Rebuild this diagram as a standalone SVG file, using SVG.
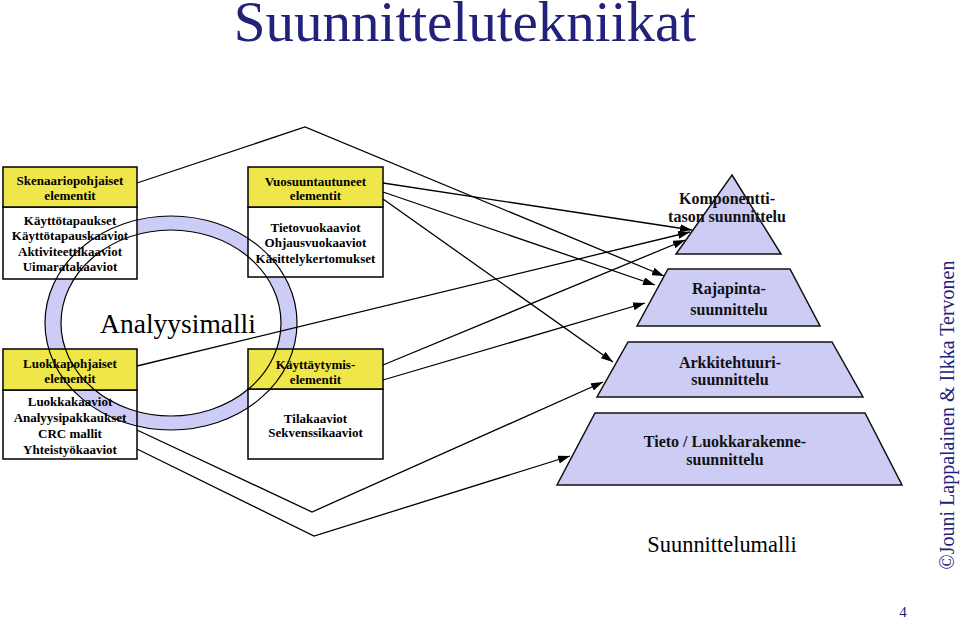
<svg xmlns="http://www.w3.org/2000/svg" width="960" height="620" viewBox="0 0 960 620" font-family="'Liberation Serif', 'Times New Roman', serif">
  <defs>
    <marker id="arr" markerUnits="userSpaceOnUse" markerWidth="12" markerHeight="8" refX="12" refY="4" orient="auto">
      <path d="M0,0 L12,4 L0,8 z" fill="#000"/>
    </marker>
    <style>
      .hdr { fill: #efe64a; stroke: #000; stroke-width: 1.5; }
      .body { fill: #fff; stroke: #000; stroke-width: 1.5; }
      .bodyclear { fill: none; stroke: #000; stroke-width: 1.5; }
      .bt { font-size: 13px; font-weight: bold; fill: #000; text-anchor: middle; }
      .pyr { fill: #ccccf5; stroke: #111; stroke-width: 1.5; }
      .pt { font-size: 16px; font-weight: bold; fill: #111; text-anchor: middle; }
      .con { fill: none; stroke: #000; stroke-width: 1.3; marker-end: url(#arr); }
      .navy { fill: #22227a; }
      .ser { fill: #000; text-anchor: middle; }
    </style>
  </defs>
  <rect width="960" height="620" fill="#fff"/>

  <text class="navy" x="465" y="41" font-size="57" text-anchor="middle" font-family="'Liberation Serif', 'Times New Roman', serif">Suunnittelutekniikat</text>

  <!-- ring fill (below the boxes) -->
  <g id="analyysimalli-ring-fill">
    <path d="M45,323 a126,107 0 1,0 252,0 a126,107 0 1,0 -252,0 z M61,323 a110,93 0 1,1 220,0 a110,93 0 1,1 -220,0 z" fill="#ccccf7" fill-rule="evenodd"/>
  </g>

  <g id="skenaario" font-family="'Liberation Serif', 'Times New Roman', serif">
    <rect class="body" x="3" y="207" width="134" height="72"/>
    <rect class="hdr" x="3" y="167" width="134" height="40"/>
    <text class="bt" x="70" y="185">Skenaariopohjaiset</text>
    <text class="bt" x="70" y="200">elementit</text>
    <text class="bt" x="70" y="225">Käyttötapaukset</text>
    <text class="bt" x="70" y="240">Käyttötapauskaaviot</text>
    <text class="bt" x="70" y="256">Aktiviteettikaaviot</text>
    <text class="bt" x="70" y="271">Uimaratakaaviot</text>
  </g>

  <g id="luokka" font-family="'Liberation Serif', 'Times New Roman', serif">
    <rect class="bodyclear" x="3" y="390" width="134" height="69"/>
    <rect class="hdr" x="3" y="349" width="134" height="41"/>
    <text class="bt" x="70" y="368">Luokkapohjaiset</text>
    <text class="bt" x="70" y="383">elementit</text>
    <text class="bt" x="70" y="406">Luokkakaaviot</text>
    <text class="bt" x="70" y="422">Analyysipakkaukset</text>
    <text class="bt" x="70" y="438">CRC mallit</text>
    <text class="bt" x="70" y="454">Yhteistyökaaviot</text>
  </g>

  <g id="vuo" font-family="'Liberation Serif', 'Times New Roman', serif">
    <rect class="body" x="248" y="207" width="135" height="70"/>
    <rect class="hdr" x="248" y="167" width="135" height="40"/>
    <text class="bt" x="315.5" y="186">Vuosuuntautuneet</text>
    <text class="bt" x="315.5" y="200">elementit</text>
    <text class="bt" x="315.5" y="232">Tietovuokaaviot</text>
    <text class="bt" x="315.5" y="247">Ohjausvuokaaviot</text>
    <text class="bt" x="315.5" y="263">Käsittelykertomukset</text>
  </g>

  <g id="kayttaytymis" font-family="'Liberation Serif', 'Times New Roman', serif">
    <rect class="body" x="248" y="389" width="135" height="70"/>
    <rect class="hdr" x="248" y="349" width="135" height="40"/>
    <text class="bt" x="315.5" y="369">Käyttäytymis-</text>
    <text class="bt" x="315.5" y="384">elementit</text>
    <text class="bt" x="315.5" y="423">Tilakaaviot</text>
    <text class="bt" x="315.5" y="437">Sekvenssikaaviot</text>
  </g>

  <!-- ring outline (above the boxes) and label -->
  <g id="analyysimalli" font-family="'Liberation Serif', 'Times New Roman', serif">
    <ellipse cx="171" cy="323" rx="126" ry="107" fill="none" stroke="#000" stroke-width="1.2"/>
    <ellipse cx="171" cy="323" rx="110" ry="93" fill="none" stroke="#000" stroke-width="1.2"/>
    <text class="ser" x="178" y="333" font-size="27.5">Analyysimalli</text>
  </g>

  <g id="komponentti" font-family="'Liberation Serif', 'Times New Roman', serif">
    <polygon class="pyr" points="732,175 781,254 676,254"/>
    <text class="pt" x="727" y="204">Komponentti-</text>
    <text class="pt" x="727" y="222">tason suunnittelu</text>
  </g>
  <g id="rajapinta" font-family="'Liberation Serif', 'Times New Roman', serif">
    <polygon class="pyr" points="668,269 790,269 820,326 637,326"/>
    <text class="pt" x="729" y="294">Rajapinta-</text>
    <text class="pt" x="729" y="315">suunnittelu</text>
  </g>
  <g id="arkkitehtuuri" font-family="'Liberation Serif', 'Times New Roman', serif">
    <polygon class="pyr" points="628,342 832,342 863,397 597,397"/>
    <text class="pt" x="730" y="368">Arkkitehtuuri-</text>
    <text class="pt" x="730" y="385">suunnittelu</text>
  </g>
  <g id="tieto" font-family="'Liberation Serif', 'Times New Roman', serif">
    <polygon class="pyr" points="595,413 865,413 902,485 557,485"/>
    <text class="pt" x="725" y="447">Tieto / Luokkarakenne-</text>
    <text class="pt" x="725" y="465">suunnittelu</text>
  </g>

  <g id="connectors">
    <polyline class="con" points="137,183 305,127 664,276"/>
    <line class="con" x1="383" y1="183" x2="692" y2="230"/>
    <line class="con" x1="383" y1="192" x2="655" y2="285"/>
    <line class="con" x1="383" y1="199" x2="613" y2="362"/>
    <line class="con" x1="137" y1="366" x2="690" y2="232"/>
    <line class="con" x1="383" y1="365" x2="685" y2="240"/>
    <line class="con" x1="383" y1="380" x2="645" y2="303"/>
    <polyline class="con" points="137,430 312,512 603,382"/>
    <polyline class="con" points="137,449 314,536 570,456"/>
  </g>

  <text class="ser" x="722" y="552" font-size="22.4" font-family="'Liberation Serif', 'Times New Roman', serif">Suunnittelumalli</text>

  <text class="navy" font-size="20" text-anchor="middle" font-family="'Liberation Serif', 'Times New Roman', serif" transform="translate(954,415) rotate(-90)">©Jouni Lappalainen &amp; Ilkka Tervonen</text>
  <text class="navy" x="903" y="617" font-size="15" text-anchor="middle" font-family="'Liberation Serif', 'Times New Roman', serif">4</text>
</svg>
